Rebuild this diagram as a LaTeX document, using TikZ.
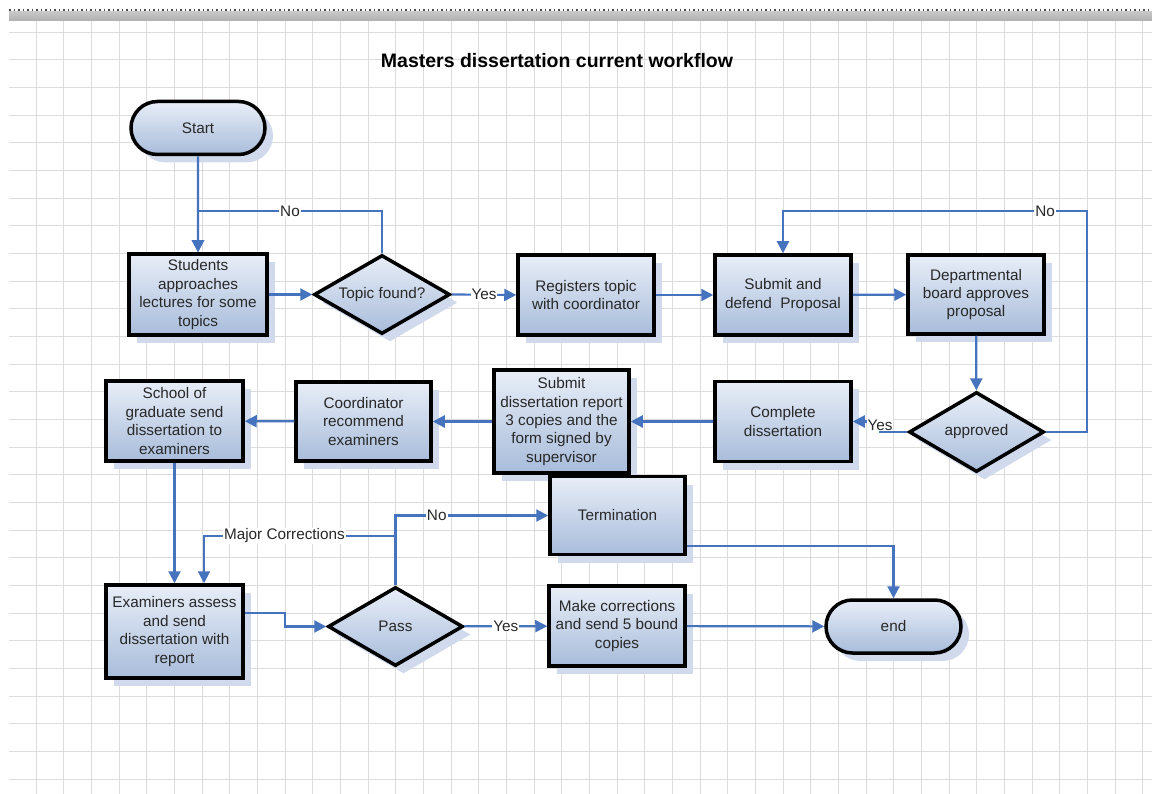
\documentclass[tikz,border=0pt]{standalone}
\usepackage{fontspec}
\setmainfont{Liberation Sans}
\usetikzlibrary{shapes.geometric,shapes.misc,shadows,arrows.meta}
\definecolor{conn}{RGB}{70,115,190}
\definecolor{shad}{RGB}{208,218,236}
\definecolor{gridc}{RGB}{220,220,220}
\definecolor{fillA}{RGB}{232,238,248}
\definecolor{fillB}{RGB}{168,188,218}
\definecolor{txt}{RGB}{40,40,40}
\definecolor{barc}{RGB}{175,175,175}
\tikzset{
  base/.style={draw=black, line width=3.5pt, top color=fillA, bottom color=fillB,
    text=txt, font=\fontsize{15.3}{18.4}\selectfont, align=center, inner sep=1pt,
    drop shadow={shadow xshift=8pt, shadow yshift=-8pt, fill=shad, opacity=1}},
  procbox/.style={base, rectangle},
  decision/.style={base, diamond, aspect=1.72, inner sep=0pt},
  termbox/.style={base, rounded rectangle, minimum width=136pt, minimum height=53pt},
  arr/.style={draw=conn, line width=2.2pt, -{Triangle[length=12pt,width=12pt]}},
  ln/.style={draw=conn, line width=2.2pt},
  lbl/.style={fill=white, inner sep=1pt, text=txt, font=\fontsize{15.3}{17}\selectfont},
}
\begin{document}
\begin{tikzpicture}[x=1pt,y=-1pt]
\useasboundingbox (0,0) rectangle (1152,794);
\fill[white] (0,0) rectangle (1152,794);
% grid
\foreach \k in {0,...,40} \draw[gridc, line width=1.2pt] ({int(36+27.67*\k)+0.5},21) -- ({int(36+27.67*\k)+0.5},794);
\foreach \k in {0,...,27} \draw[gridc, line width=1.2pt] (9,{int(32+27.67*\k)+0.5}) -- (1152,{int(32+27.67*\k)+0.5});
% top strip
\fill[top color=barc!70, bottom color=barc] (9,12) rectangle (1152,21);
\draw[black!70, line width=2pt, dash pattern=on 1.5pt off 3pt] (9,10) -- (1152,10);
% title
\node[font=\bfseries\fontsize{19.5}{22}\selectfont, text=black] (title) at (557,61) {Masters dissertation current workflow};
% nodes
\node[termbox] (nStart) at (198,128) {Start};
\node[procbox, minimum width=138pt, minimum height=81pt] (nStud) at (198,294.5) {Students\\approaches\\lectures for some\\topics};
\node[decision, minimum width=136pt, minimum height=79pt] (nTopic) at (382,294.5) {Topic found?};
\node[procbox, minimum width=136pt, minimum height=80pt] (nReg) at (586,295) {Registers topic\\with coordinator};
\node[procbox, minimum width=136pt, minimum height=80pt] (nSub) at (783,295) {Submit and\\defend\ \ Proposal};
\node[procbox, minimum width=136pt, minimum height=79pt] (nDept) at (976,294.5) {Departmental\\board approves\\proposal};
\node[decision, minimum width=135pt, minimum height=80pt] (nAppr) at (976.5,432) {approved};
\node[procbox, minimum width=136pt, minimum height=80pt] (nComp) at (783,421.5) {Complete\\dissertation};
\node[procbox, minimum width=135pt, minimum height=103pt] (nRep) at (561.5,421.5) {Submit\\dissertation report\\3 copies and the\\form signed by\\supervisor};
\node[procbox, minimum width=135pt, minimum height=79pt] (nCoord) at (363.5,421.5) {Coordinator\\recommend\\examiners};
\node[procbox, minimum width=137pt, minimum height=80pt] (nSchool) at (174.5,421) {School of\\graduate send\\dissertation to\\examiners};
\node[procbox, minimum width=135pt, minimum height=78pt] (nTerm) at (617.5,515.5) {Termination};
\node[procbox, minimum width=137pt, minimum height=93pt] (nExam) at (174.5,631.5) {Examiners assess\\and send\\dissertation with\\report};
\node[decision, minimum width=135pt, minimum height=79pt] (nPass) at (395.5,626.5) {Pass};
\node[procbox, minimum width=136pt, minimum height=80pt] (nMake) at (617,626) {Make corrections\\and send 5 bound\\copies};
\node[termbox, minimum width=137pt] (nEnd) at (893.5,626.5) {end};
% connectors
\coordinate (cNoL) at (198,211);
\coordinate (cNoR) at (1087,211);
\coordinate (cMC) at (204,536);
\draw[arr] (nStart) -- (nStud);
\draw[arr] (nTopic.north) |- node[lbl, pos=0.75]{No} (cNoL) -- (nStud.north);
\draw[arr] (nStud) -- (nTopic);
\draw[arr] (nTopic.east) -- node[lbl]{Yes} (nReg.west);
\draw[arr] (nReg) -- (nSub);
\draw[arr] (nSub) -- (nDept);
\draw[arr] (nDept) -- (nAppr);
\draw[arr] (nAppr.east) -| (cNoR) -- node[lbl, pos=0.138]{No} (nSub.north |- cNoR) -- (nSub.north);
\draw[arr] (nAppr.west) -- (880,432) node[lbl, yshift=7pt]{Yes} |- (nComp.east);
\draw[arr] (nComp) -- (nRep);
\draw[arr] (nRep) -- (nCoord);
\draw[arr] (nCoord) -- (nSchool);
\draw[arr] (nSchool) -- (nExam);
\draw[arr] (nPass.north) |- node[lbl, pos=0.79]{Major Corrections} (cMC) -- (cMC |- nExam.north);
\draw[arr] (nPass.north) |- node[lbl, pos=0.635]{No} (nTerm.west);
\draw[arr] (nPass) -- node[lbl]{Yes} (nMake);
\draw[arr] ([yshift=18.5pt]nExam.east) -- ++(40,0) |- (nPass.west);
\draw[arr] ([yshift=-30.5pt]nTerm.east) -| (nEnd.north);
\draw[arr] (nMake) -- (nEnd);
\end{tikzpicture}
\end{document}
